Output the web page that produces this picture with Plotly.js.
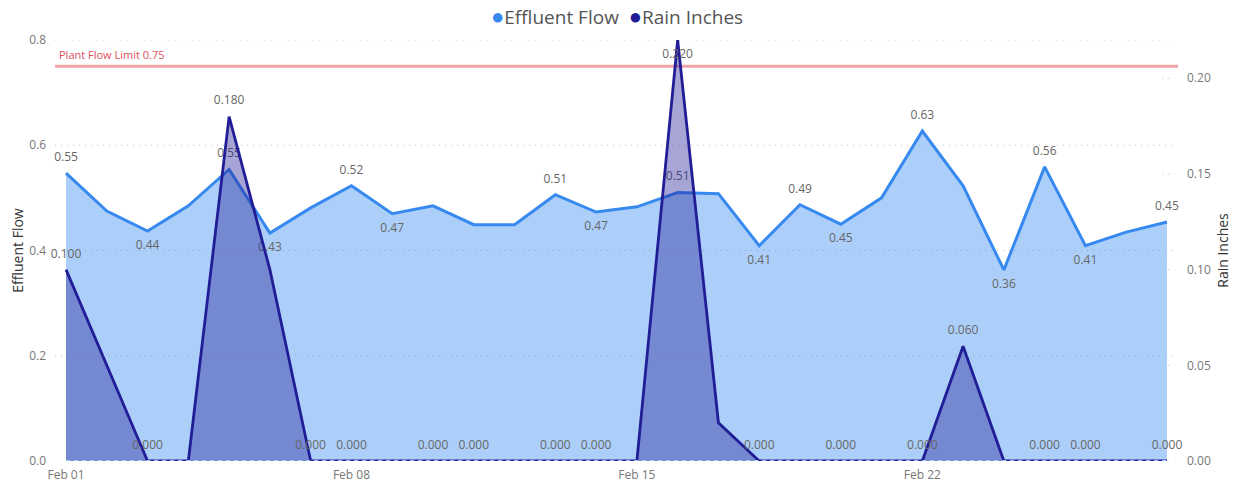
<!DOCTYPE html>
<html>
<head>
<meta charset="utf-8">
<script src="https://cdn.plot.ly/plotly-3.0.1.min.js"></script>
<style>
html,body{margin:0;padding:0;background:#fff;}
#chart{width:1236px;height:482px;}
</style>
</head>
<body>
<div id="chart"></div>
<script>
// ---- data ----
const dates = ["2024-02-01","2024-02-02","2024-02-03","2024-02-04","2024-02-05","2024-02-06","2024-02-07",
  "2024-02-08","2024-02-09","2024-02-10","2024-02-11","2024-02-12","2024-02-13","2024-02-14",
  "2024-02-15","2024-02-16","2024-02-17","2024-02-18","2024-02-19","2024-02-20","2024-02-21",
  "2024-02-22","2024-02-23","2024-02-24","2024-02-25","2024-02-26","2024-02-27","2024-02-28"];
const effluentFlow = [0.547,0.475,0.437,0.485,0.554,0.433,0.481,0.523,0.470,0.485,0.449,0.449,0.506,0.473,
  0.483,0.510,0.508,0.409,0.487,0.450,0.500,0.627,0.523,0.363,0.559,0.409,0.435,0.454];
const rainInches = [0.100,0.050,0.000,0.000,0.180,0.100,0.000,0.000,0.000,0.000,0.000,0.000,0.000,0.000,
  0.000,0.220,0.020,0.000,0.000,0.000,0.000,0.000,0.060,0.000,0.000,0.000,0.000,0.000];
// which points carry a data label (1 = shown), and where (1 = below the point)
const flowLabelShown = [1,0,1,0,1,1,0,1,1,0,0,0,1,1,0,1,0,1,1,1,0,1,0,1,1,1,0,1];
const flowLabelBelow = [0,0,1,0,0,1,0,0,1,0,0,0,0,1,0,0,0,1,0,1,0,0,0,1,0,1,0,0];
const rainLabelShown = [1,0,1,0,1,0,1,1,0,1,1,0,1,1,0,1,0,1,0,1,0,1,1,0,1,1,0,1];
const rainLabelBelow = [0,0,0,0,0,0,0,0,0,0,0,0,0,0,0,1,0,0,0,0,0,0,0,0,0,0,0,0];
const plantFlowLimit = 0.75;
const xTickVals = ["2024-02-01","2024-02-08","2024-02-15","2024-02-22"];
const xTickText = ["Feb 01","Feb 08","Feb 15","Feb 22"];
const yTickVals = [0,0.2,0.4,0.6,0.8];
const yTickText = ["0.0","0.2","0.4","0.6","0.8"];
const y2TickVals = [0,0.05,0.10,0.15,0.20];
const y2TickText = ["0.00","0.05","0.10","0.15","0.20"];
const seriesNames = ["Effluent Flow","Rain Inches"];
const seriesColors = ["#3789F0","#211D96"];

const FONT = "'Open Sans', 'Noto Sans', sans-serif";
const flowText = effluentFlow.map((v,i)=> flowLabelShown[i] ? v.toFixed(2) : "");
const flowPos = flowLabelBelow.map(b => b ? "bottom center" : "top center");
const rainText = rainInches.map((v,i)=> rainLabelShown[i] ? v.toFixed(3) : "");
const rainPos = rainLabelBelow.map(b => b ? "bottom center" : "top center");

const traces = [
  {
    x: dates, y: effluentFlow, type: "scatter", mode: "lines+markers+text",
    name: seriesNames[0], showlegend: false, yaxis: "y",
    line: {color: seriesColors[0], width: 3},
    marker: {size: 13, opacity: 0, color: seriesColors[0]},
    fill: "tozeroy", fillcolor: "#ACCFFA",
    text: flowText, textposition: flowPos,
    textfont: {family: FONT, size: 12, color: "#666666"},
    cliponaxis: false
  },
  {
    x: dates, y: rainInches, type: "scatter", mode: "lines+markers+text",
    name: seriesNames[1], showlegend: false, yaxis: "y2",
    line: {color: seriesColors[1], width: 2.8},
    marker: {size: 13, opacity: 0, color: seriesColors[1]},
    fill: "tozeroy", fillcolor: "rgba(35,30,150,0.4)",
    text: rainText, textposition: rainPos,
    textfont: {family: FONT, size: 12, color: "#666666"},
    cliponaxis: false
  }
];

const pad = 0.27*86400000;
const x0 = new Date(dates[0]+"T00:00:00Z").getTime() - pad;
const x1 = new Date(dates[dates.length-1]+"T00:00:00Z").getTime() + pad;

const gridShapes = yTickVals.filter(v => v > 0).map(v => ({
  type: "line", xref: "paper", x0: 0, x1: 0.997, yref: "y", y0: v, y1: v,
  line: {color: "rgba(120,120,120,0.45)", width: 1, dash: "1px,5px"}, layer: "above"
}));
const y2TickMarks = y2TickVals.map(v => ({
  type: "line", xref: "paper", x0: 0.986, x1: 0.997, yref: "y2", y0: v, y1: v,
  line: {color: "rgba(120,120,120,0.45)", width: 1, dash: "1px,5px"}, layer: "above"
}));

const legendText = seriesNames.map((n,i) =>
  "<span style='color:" + seriesColors[i] + ";font-size:22px'>●</span>" + n).join("  ");

const layout = {
  width: 1236, height: 482,
  margin: {l: 55, r: 58, t: 40, b: 21},
  paper_bgcolor: "#ffffff", plot_bgcolor: "#ffffff",
  font: {family: FONT, color: "#666666"},
  showlegend: false,
  xaxis: {
    type: "date", range: [x0, x1],
    tickvals: xTickVals, ticktext: xTickText,
    showgrid: false, zeroline: false, showline: false,
    ticks: "", tickfont: {family: FONT, size: 12, color: "#777777"},
    ticklabelstandoff: 5
  },
  yaxis: {
    range: [0, 0.8], tickvals: yTickVals, ticktext: yTickText,
    showgrid: false, zeroline: false, showline: false, ticks: "",
    tickfont: {family: FONT, size: 12, color: "#777777"},
    ticklabelstandoff: 8,
    title: {text: "Effluent Flow", font: {family: FONT, size: 14, color: "#333333"}, standoff: 2}
  },
  yaxis2: {
    range: [0, 0.22], overlaying: "y", side: "right",
    tickvals: y2TickVals, ticktext: y2TickText,
    showgrid: false, zeroline: false, showline: false, ticks: "",
    tickfont: {family: FONT, size: 12, color: "#777777"},
    ticklabelstandoff: 8,
    title: {text: "Rain Inches", font: {family: FONT, size: 14, color: "#333333"}, standoff: 8}
  },
  shapes: [
    {type: "line", xref: "paper", x0: 0, x1: 1, yref: "y", y0: plantFlowLimit, y1: plantFlowLimit,
     line: {color: "#F1A4A8", width: 3}, layer: "below"},
    ...gridShapes,
    ...y2TickMarks,
    {type: "line", xref: "paper", x0: 0.01, x1: 0.99, yref: "y", y0: 0, y1: 0,
     line: {color: "#A9CCF8", width: 2, dash: "4px,4px"}, layer: "above"}
  ],
  annotations: [
    {xref: "paper", x: 0.002, xanchor: "left", yref: "y", y: plantFlowLimit, yanchor: "bottom",
     yshift: 2, text: "Plant Flow Limit " + plantFlowLimit, showarrow: false,
     font: {family: FONT, size: 11, color: "#E0505C"}},
    {xref: "paper", x: 0.5, xanchor: "center", yref: "paper", y: 1, yanchor: "middle",
     yshift: 25, text: legendText, showarrow: false,
     font: {family: FONT, size: 19, color: "#555555"}}
  ]
};

Plotly.newPlot("chart", traces, layout, {displayModeBar: false, staticPlot: true});
</script>
</body>
</html>
